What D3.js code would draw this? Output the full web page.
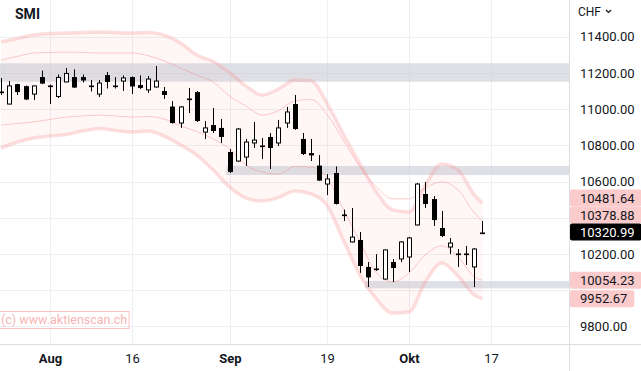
<!DOCTYPE html>
<html>
<head>
<meta charset="utf-8">
<script src="https://cdn.jsdelivr.net/npm/d3@7"></script>
<style>
body { margin: 0; background: #fff; }
text { font-family: Roboto, "Noto Sans", sans-serif; }
</style>
</head>
<body>
<svg id="chart"></svg>
<script>
// trading days, 22 Jul - 14 Oct 2022
var dates = ["2022-07-22",
	"2022-07-25","2022-07-26","2022-07-27","2022-07-28","2022-07-29",
	"2022-08-02","2022-08-03","2022-08-04","2022-08-05",
	"2022-08-08","2022-08-09","2022-08-10","2022-08-11","2022-08-12",
	"2022-08-15","2022-08-16","2022-08-17","2022-08-18","2022-08-19",
	"2022-08-22","2022-08-23","2022-08-24","2022-08-25","2022-08-26",
	"2022-08-29","2022-08-30","2022-08-31","2022-09-01","2022-09-02",
	"2022-09-05","2022-09-06","2022-09-07","2022-09-08","2022-09-09",
	"2022-09-12","2022-09-13","2022-09-14","2022-09-15","2022-09-16",
	"2022-09-19","2022-09-20","2022-09-21","2022-09-22","2022-09-23",
	"2022-09-26","2022-09-27","2022-09-28","2022-09-29","2022-09-30",
	"2022-10-03","2022-10-04","2022-10-05","2022-10-06","2022-10-07",
	"2022-10-10","2022-10-11","2022-10-12","2022-10-13","2022-10-14"];

var open  = [11097,11028,11138,11127,11083,11177,11127,11070,11150,11177,
	11177,11130,11083,11188,11127,11155,11177,11133,11106,11122,
	11100,11014,10923,11059,11094,10873,10912,10896,10763,10713,
	10735,10813,10799,10846,10813,10923,11028,10835,10757,10688,
	10586,10647,10412,10266,10277,10128,10119,10061,10155,10172,
	10183,10360,10531,10503,10343,10238,10202,10200,10128,10315];
var high  = [11172,11155,11140,11130,11130,11213,11136,11191,11227,11219,
	11191,11161,11161,11205,11177,11186,11180,11186,11183,11238,
	11122,11045,11017,11117,11100,10934,11006,10945,10780,10896,
	10835,10929,10840,10868,10940,11012,11078,10868,10835,10746,
	10641,10683,10445,10454,10321,10155,10199,10225,10172,10271,
	10293,10592,10597,10520,10437,10288,10227,10244,10232,10382];
var low   = [11078,11026,11078,11050,11050,11138,11028,11061,11148,11117,
	11147,11097,11067,11114,11114,11100,11083,11111,11089,11119,
	11056,10920,10896,10978,10929,10835,10868,10813,10647,10708,
	10686,10785,10724,10669,10796,10896,10885,10746,10713,10603,
	10525,10473,10382,10263,10095,10017,10106,10058,10045,10155,
	10100,10357,10454,10354,10293,10199,10128,10139,10017,10310];
var close = [11090,11128,11094,11053,11128,11141,11125,11175,11197,11119,
	11158,11128,11144,11150,11125,11172,11125,11117,11166,11155,
	11078,10923,11012,11056,10934,10896,10879,10846,10653,10890,
	10818,10829,10796,10785,10896,10984,10890,10752,10744,10605,
	10614,10476,10423,10293,10133,10070,10117,10222,10122,10266,
	10288,10586,10476,10387,10299,10260,10199,10196,10227,10320.99];

// envelope bands, read at every second candle
var bandIdx = [0,2,4,6,8,10,12,14,16,18,20,22,24,26,28,30,32,34,36,38,40,42,44,46,48,50,52,54,56,58,59];
var outerUpper = [11371,11390,11409,11418,11420,11423,11426,11423,11420,11423,11409,11365,11299,11263,11202,
	11128,11078,11111,11161,11156,11028,10857,10697,10542,10443,10432,10581,10697,10664,10526,10481.64];
var innerUpper = [11271,11291,11310,11313,11315,11313,11310,11310,11310,11296,11266,11227,11188,11150,11072,
	11017,10967,10992,11045,11053,10967,10823,10680,10570,10504,10504,10565,10598,10554,10427,10378.88];
var innerLower = [10912,10920,10929,10943,10956,10962,10967,10962,10956,10959,10945,10907,10876,10835,10780,
	10691,10652,10641,10683,10680,10617,10443,10266,10095,10045,10095,10195,10244,10184,10073,10054.23];
var outerLower = [10785,10818,10840,10851,10860,10879,10893,10882,10873,10879,10851,10802,10746,10663,10570,
	10509,10492,10512,10547,10531,10465,10271,10083,9951,9873,9879,10045,10150,10078,9973,9952.67];

// grey support / resistance zones
var zoneTop    = [11253, 10686, 10050];
var zoneBottom = [11151, 10636, 10010];
var zoneStart  = [-1, 28, 45];

var priceTicks = [9800, 10000, 10200, 10400, 10600, 10800, 11000, 11200, 11400];
var timeTickIdx    = [6, 16, 28, 40, 50, 60];
var timeTickLabels = ["Aug", "16", "Sep", "19", "Okt", "17"];
var timeTickBold   = [true, false, true, false, true, false];

var width = 641, height = 371,
	plotRight = 569, plotBottom = 344;

var svg = d3.select("#chart").attr("width", width).attr("height", height);

var x = d3.scaleLinear().domain([0, 60]).range([1.04, 490.64]);
var y = d3.scaleLinear().domain([9800, 11400]).range([326.3, 36.7]);

svg.append("defs").append("clipPath")
	.attr("id", "plotClip")
	.append("rect")
		.attr("width", plotRight)
		.attr("height", plotBottom);

var plot = svg.append("g").attr("clip-path", "url(#plotClip)");

// grid
plot.selectAll(".vgrid")
	.data(timeTickIdx)
	.enter()
	.append("line")
		.attr("x1", function(d){ return Math.round(x(d)) + 0.5; })
		.attr("x2", function(d){ return Math.round(x(d)) + 0.5; })
		.attr("y1", 0)
		.attr("y2", plotBottom)
		.attr("stroke", "#eeeff2");

plot.selectAll(".hgrid")
	.data(priceTicks)
	.enter()
	.append("line")
		.attr("x1", 0)
		.attr("x2", plotRight)
		.attr("y1", function(d){ return Math.round(y(d)) + 0.5; })
		.attr("y2", function(d){ return Math.round(y(d)) + 0.5; })
		.attr("stroke", "#eeeff2");

// bands
var bandPts = bandIdx.map(function(k, i){
	return {k: k, ou: outerUpper[i], iu: innerUpper[i], il: innerLower[i], ol: outerLower[i]};
});

plot.append("path")
	.datum(bandPts)
	.attr("fill", "rgba(255,40,40,0.045)")
	.attr("d", d3.area()
		.curve(d3.curveMonotoneX)
		.x(function(d){ return x(d.k); })
		.y0(function(d){ return y(d.ol); })
		.y1(function(d){ return y(d.ou); }));

// zones
for (var z = 0; z < zoneTop.length; z++) {
	var zx = zoneStart[z] < 0 ? 0 : x(zoneStart[z]) - 3;
	plot.append("rect")
		.attr("x", zx)
		.attr("y", y(zoneTop[z]))
		.attr("width", plotRight - zx)
		.attr("height", y(zoneBottom[z]) - y(zoneTop[z]))
		.attr("fill", "rgba(196,198,208,0.55)");
}

function bandLine(key) {
	return d3.line()
		.curve(d3.curveMonotoneX)
		.x(function(d){ return x(d.k); })
		.y(function(d){ return y(d[key]); });
}

["ou", "ol"].forEach(function(key){
	plot.append("path")
		.datum(bandPts)
		.attr("fill", "none")
		.attr("stroke", "rgba(248,150,150,0.3)")
		.attr("stroke-width", 3.5)
		.attr("d", bandLine(key));
});
["iu", "il"].forEach(function(key){
	plot.append("path")
		.datum(bandPts)
		.attr("fill", "none")
		.attr("stroke", "rgba(245,130,130,0.4)")
		.attr("stroke-width", 1)
		.attr("d", bandLine(key));
});

// candles
var candles = plot.append("g").attr("id", "candles");
var bodyW = 5;

dates.forEach(function(d, i){
	var cx = Math.round(x(i));
	var up = close[i] >= open[i];
	candles.append("line")
		.attr("x1", cx + 0.5).attr("x2", cx + 0.5)
		.attr("y1", y(high[i])).attr("y2", y(low[i]))
		.attr("stroke", "#000")
		.attr("stroke-width", 1);
	var top = y(Math.max(open[i], close[i]));
	var bot = y(Math.min(open[i], close[i]));
	if (bot - top < 2) {
		candles.append("rect")
			.attr("x", cx - 2).attr("width", bodyW)
			.attr("y", Math.round((top + bot) / 2) - 0.5).attr("height", 1.6)
			.attr("fill", "#000");
	} else if (up) {
		candles.append("rect")
			.attr("x", cx - 1.5).attr("width", bodyW - 1)
			.attr("y", top).attr("height", bot - top)
			.attr("fill", "#fff")
			.attr("stroke", "#000")
			.attr("stroke-width", 1);
	} else {
		candles.append("rect")
			.attr("x", cx - 2).attr("width", bodyW)
			.attr("y", top).attr("height", bot - top)
			.attr("fill", "#000");
	}
});

// watermark
svg.append("rect")
	.attr("x", -1).attr("y", 311.5)
	.attr("width", 130).attr("height", 17)
	.attr("fill", "none")
	.attr("stroke", "rgba(245,120,120,0.45)");
svg.append("text")
	.attr("x", 1).attr("y", 324)
	.attr("font-size", 12.5)
	.attr("fill", "rgba(245,110,110,0.55)")
	.text("(c) www.aktienscan.ch");

// title
svg.append("text")
	.attr("x", 15).attr("y", 18.5)
	.attr("font-size", 14)
	.attr("font-weight", "bold")
	.attr("fill", "#131722")
	.text("SMI");

// axis separators
svg.append("line")
	.attr("x1", 0).attr("x2", width)
	.attr("y1", plotBottom + 0.5).attr("y2", plotBottom + 0.5)
	.attr("stroke", "#dcdde1");
svg.append("line")
	.attr("x1", plotRight + 0.5).attr("x2", plotRight + 0.5)
	.attr("y1", 0).attr("y2", height)
	.attr("stroke", "#dcdde1");

// time axis labels
svg.selectAll(".tlabel")
	.data(timeTickIdx)
	.enter()
	.append("text")
		.attr("x", function(d){ return Math.round(x(d)) + 0.5; })
		.attr("y", 362.5)
		.attr("text-anchor", "middle")
		.attr("font-size", 13)
		.attr("font-weight", function(d, i){ return timeTickBold[i] ? "bold" : "normal"; })
		.attr("fill", "#131722")
		.text(function(d, i){ return timeTickLabels[i]; });

// last-value markers
var nb = bandIdx.length - 1;
var marks = [
	{v: outerUpper[nb], bg: "#fbcacb", fg: "#131722"},
	{v: innerUpper[nb], bg: "#fbcacb", fg: "#131722"},
	{v: close[close.length - 1], bg: "#000", fg: "#fff"},
	{v: innerLower[nb], bg: "#fbcacb", fg: "#131722"},
	{v: outerLower[nb], bg: "#fbcacb", fg: "#131722"}
];
var lh = 17, ci = 2;
marks.forEach(function(m){ m.y = y(m.v); });
for (var i = ci - 1; i >= 0; i--)
	if (marks[i].y > marks[i + 1].y - lh) marks[i].y = marks[i + 1].y - lh;
for (var i = ci + 1; i < marks.length; i++)
	if (marks[i].y < marks[i - 1].y + lh) marks[i].y = marks[i - 1].y + lh;

// price axis labels, hidden where a marker sits
var axisG = svg.append("g");
axisG.selectAll(".plabel")
	.data(priceTicks.filter(function(p){
		return marks.every(function(m){ return Math.abs(m.y - y(p)) > 13; });
	}))
	.enter()
	.append("text")
		.attr("x", 580)
		.attr("y", function(d){ return y(d); })
		.attr("dy", "0.36em")
		.attr("font-size", 13)
		.attr("fill", "#131722")
		.text(function(d){ return d3.format(".2f")(d); });

var markG = svg.append("g");
marks.forEach(function(m){
	var g = markG.append("g");
	var r = g.append("rect")
		.attr("x", plotRight + 1)
		.attr("y", m.y - lh / 2)
		.attr("height", lh)
		.attr("rx", 2)
		.attr("fill", m.bg);
	var t = g.append("text")
		.attr("x", 580)
		.attr("y", m.y)
		.attr("dy", "0.36em")
		.attr("font-size", 13)
		.attr("fill", m.fg)
		.text(d3.format(".2f")(m.v));
	r.attr("width", t.node().getComputedTextLength() + 17);
});

// currency
svg.append("text")
	.attr("x", 578).attr("y", 15.5)
	.attr("font-size", 12)
	.attr("fill", "#131722")
	.text("CHF");
svg.append("path")
	.attr("d", "M606,10 L608.5,12.5 L611,10")
	.attr("fill", "none")
	.attr("stroke", "#131722")
	.attr("stroke-width", 1.2);
</script>
</body>
</html>
